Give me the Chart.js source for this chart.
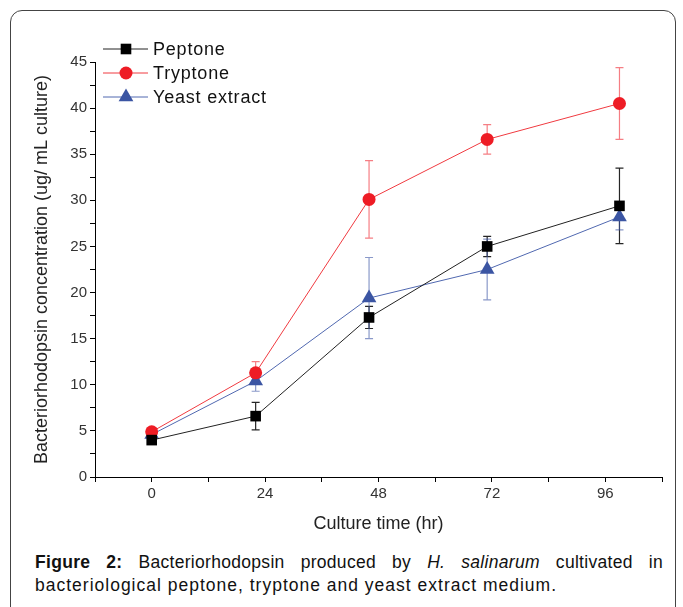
<!DOCTYPE html>
<html>
<head>
<meta charset="utf-8">
<script src="https://cdn.jsdelivr.net/npm/chart.js@4.4.0/dist/chart.umd.min.js"></script>
<style>
  body { margin: 0; background: #fff; width: 683px; height: 607px; overflow: hidden; position: relative;
         font-family: "Liberation Sans", Arial, sans-serif; }
  #frame { position: absolute; left: 10px; top: 10px; width: 664px; height: 650px;
           border: 1px solid #444; border-radius: 12px; }
  #wrap { position: absolute; left: 0; top: 0; width: 683px; height: 540px; }
  #caption { position: absolute; left: 35px; top: 551px; width: 628px; font-size: 17.5px; letter-spacing: 1px;
             line-height: 23px; color: #111; }
  #caption .l1 { display: block; text-align: justify; text-align-last: justify; letter-spacing: 0.3px; }
</style>
</head>
<body>
<div id="frame"></div>
<div id="wrap"><canvas id="myChart" width="683" height="540"></canvas></div>
<div id="caption">
  <span class="l1"><b>Figure 2:</b> Bacteriorhodopsin produced by <i>H. salinarum</i> cultivated in</span>
  bacteriological peptone, tryptone and yeast extract medium.
</div>
<script>
// culture time (hr) where each sample was taken
var hours = [0, 22, 46, 71, 99];

var peptone = [4.0, 6.6, 17.3, 25.0, 29.4];
var peptoneErr = [0.3, 1.5, 1.2, 1.1, 4.1];
var tryptone = [4.9, 11.3, 30.1, 36.6, 40.5];
var tryptoneErr = [0.3, 1.2, 4.2, 1.6, 3.9];
var yeast = [4.6, 10.4, 19.4, 22.5, 28.2];
var yeastErr = [0.3, 1.1, 4.4, 3.3, 1.4];

var xLabels = [0, 24, 48, 72, 96];
var yLabels = [0, 5, 10, 15, 20, 25, 30, 35, 40, 45];

function points(ys) {
  return hours.map(function (h, i) { return { x: h, y: ys[i] }; });
}

var ctx = document.getElementById('myChart');

var data = {
  datasets: [
    {
      label: "Peptone",
      data: points(peptone),
      errors: peptoneErr,
      errColor: "rgba(0,0,0,0.85)",
      borderColor: "#222",
      backgroundColor: "#000",
      pointStyle: "rect",
      radius: 7.5,
      borderWidth: 1,
      pointBorderWidth: 0
    },
    {
      label: "Tryptone",
      data: points(tryptone),
      errors: tryptoneErr,
      errColor: "rgba(238,40,50,0.6)",
      borderColor: "#f03a40",
      backgroundColor: "#ee1c25",
      pointStyle: "circle",
      radius: 6.5,
      borderWidth: 1,
      pointBorderWidth: 0
    },
    {
      label: "Yeast extract",
      data: points(yeast),
      errors: yeastErr,
      errColor: "rgba(60,85,165,0.6)",
      borderColor: "#5068b0",
      backgroundColor: "#3b55a3",
      pointStyle: "triangle",
      radius: 8.5,
      borderWidth: 1,
      pointBorderWidth: 0
    }
  ]
};

//error bars drawn under the markers
var errorBars = {
  id: "errorBars",
  beforeDatasetsDraw: function (chart) {
    var c = chart.ctx, xs = chart.scales.x, ys = chart.scales.y;
    chart.data.datasets.forEach(function (ds) {
      c.save();
      c.strokeStyle = ds.errColor;
      c.lineWidth = 1.2;
      ds.data.forEach(function (p, i) {
        var px = xs.getPixelForValue(p.x);
        var top = ys.getPixelForValue(p.y + ds.errors[i]);
        var bot = ys.getPixelForValue(p.y - ds.errors[i]);
        c.beginPath();
        c.moveTo(px, top); c.lineTo(px, bot);
        c.moveTo(px - 4, top); c.lineTo(px + 4, top);
        c.moveTo(px - 4, bot); c.lineTo(px + 4, bot);
        c.stroke();
      });
      c.restore();
    });
  }
};

//legend with line + marker samples
var lineLegend = {
  id: "lineLegend",
  afterDraw: function (chart) {
    var c = chart.ctx;
    var x0 = chart.chartArea.left + 8, y0 = chart.chartArea.top - 13;
    chart.data.datasets.forEach(function (ds, i) {
      var y = y0 + i * 24;
      c.save();
      c.strokeStyle = ds.borderColor;
      c.lineWidth = 1;
      c.beginPath(); c.moveTo(x0, y); c.lineTo(x0 + 45, y); c.stroke();
      c.fillStyle = ds.backgroundColor;
      Chart.helpers.drawPoint(c, { pointStyle: ds.pointStyle, radius: ds.radius, rotation: 0, borderWidth: 0 }, x0 + 23, y);
      c.fillStyle = "#111";
      c.font = "18px 'Liberation Sans', Arial, sans-serif";
      if ("letterSpacing" in c) c.letterSpacing = "0.8px";
      c.textBaseline = "middle";
      c.fillText(ds.label, x0 + 50, y + 1);
      c.restore();
    });
  }
};

var tickFont = { family: "'Liberation Sans', Arial, sans-serif", size: 15 };
var titleFont = { family: "'Liberation Sans', Arial, sans-serif", size: 18 };

var options = {
  responsive: false,
  animation: false,
  layout: { padding: { left: 31, right: 21, top: 62, bottom: 5 } },
  plugins: { legend: { display: false }, tooltip: { enabled: false } },
  elements: { line: { tension: 0 } },
  scales: {
    x: {
      type: "linear",
      min: -12,
      max: 108,
      afterFit: function (s) { s.height = 58; },
      grid: { drawOnChartArea: false, tickLength: 5, color: "#000" },
      border: { color: "#000", width: 1 },
      ticks: {
        stepSize: 12,
        autoSkip: false,
        maxRotation: 0,
        color: "#333",
        font: tickFont,
        callback: function (v) { return xLabels.indexOf(v) >= 0 ? String(v) : ""; }
      },
      title: { display: true, text: "Culture time (hr)", color: "#222", font: titleFont, padding: 0 }
    },
    y: {
      min: 0,
      max: 45,
      afterFit: function (s) { s.width = 64; },
      grid: { drawOnChartArea: false, tickLength: 5, color: "#000" },
      border: { color: "#000", width: 1 },
      ticks: {
        stepSize: 2.5,
        autoSkip: false,
        color: "#333",
        font: tickFont,
        callback: function (v) { return yLabels.indexOf(v) >= 0 ? String(v) : ""; }
      },
      title: { display: true, text: "Bacteriorhodopsin concentration (ug/ mL culture)", color: "#222", font: titleFont, padding: 0 }
    }
  }
};

var chart = new Chart(ctx, {
  type: "scatter",
  data: data,
  options: Object.assign(options, { datasets: { scatter: { showLine: true } } }),
  plugins: [errorBars, lineLegend]
});
</script>
</body>
</html>
